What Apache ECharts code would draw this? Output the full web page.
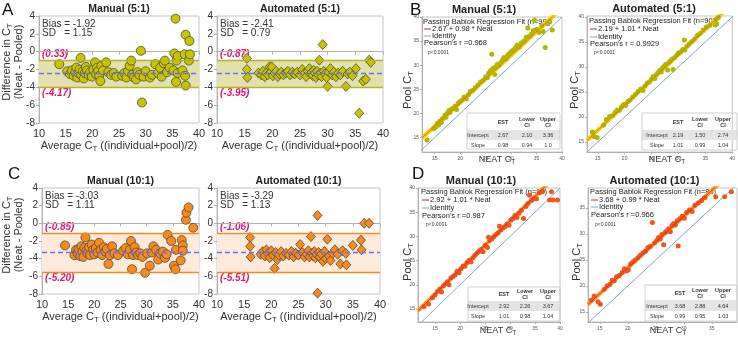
<!DOCTYPE html>
<html>
<head>
<meta charset="utf-8">
<script src="https://cdn.jsdelivr.net/npm/echarts@6/dist/echarts.min.js"></script>
<style>
html, body { margin: 0; padding: 0; background: #fff; }
#chart { width: 738px; height: 337px; }
</style>
</head>
<body>
<div id="chart"></div>
<script>
// Bland-Altman data: [average Ct, difference (neat - pooled)]
const manual5Diff = [[13.8,-1.4],[15.3,-2.2],[15.8,-2.5],[16.2,-2.1],[16.5,-2.7],[16.8,-2.3],[17.0,-1.8],[17.2,-2.9],[17.4,-2.4],[17.6,-2.0],[17.8,-0.7],[17.9,-2.6],[18.2,-2.2],[18.4,-3.0],[18.6,-2.4],[18.8,-1.7],[19.0,-2.1],[19.3,-2.6],[19.6,-2.3],[19.9,-2.8],[20.2,-2.0],[20.5,-1.2],[20.7,-2.5],[20.9,-1.8],[21.1,-2.2],[21.3,-2.7],[21.5,-3.3],[21.7,-1.6],[22.0,-2.1],[22.6,-1.2],[23.0,-2.3],[23.5,-2.6],[24.0,-2.4],[24.5,-2.8],[25.6,-2.7],[26.0,-2.4],[26.4,-2.9],[26.7,-2.2],[27.0,-1.6],[27.3,-1.0],[27.5,-2.6],[27.8,-2.9],[28.2,-3.1],[28.5,-2.3],[28.8,-2.6],[29.1,0.1],[29.3,-5.7],[29.6,-2.8],[30.0,-2.2],[30.8,-2.9],[31.2,-2.6],[31.8,-1.4],[32.3,-2.4],[32.7,-1.8],[33.0,-2.8],[33.4,-1.3],[33.6,-1.0],[34.0,-2.3],[34.5,-1.8],[35.2,-2.1],[35.4,-0.2],[35.6,3.7],[35.7,-3.4],[35.8,-1.0],[36.0,-0.5],[36.0,-2.4],[36.9,-2.1],[37.3,-0.3],[37.4,-2.7],[37.5,1.9],[37.5,-3.8],[38.1,-1.0],[38.2,1.2],[38.3,-0.3]];
const auto5Diff = [[15.4,-0.75],[15.4,-2.0],[15.5,-2.9],[17.5,-2.4],[18.0,-2.6],[18.3,-2.2],[18.6,-2.8],[18.9,-2.4],[19.2,-2.6],[19.5,-1.7],[19.7,-2.3],[19.9,-1.7],[20.1,-2.7],[20.4,-2.4],[20.7,-2.2],[21.0,-2.8],[21.3,-2.5],[21.6,-2.3],[22.0,-2.6],[22.4,-2.4],[22.8,-2.2],[23.2,-2.6],[23.6,-2.3],[24.0,-2.5],[24.5,-2.3],[25.0,-2.6],[25.4,-2.0],[25.8,-2.4],[26.1,-2.8],[26.4,-2.2],[26.7,-1.9],[26.9,-2.5],[27.1,-2.3],[27.3,-2.7],[27.5,-2.1],[27.7,-2.4],[27.9,-2.9],[28.1,-2.2],[28.3,-2.6],[28.5,-0.95],[28.7,-2.4],[28.9,-2.8],[29.1,0.8],[29.3,-2.2],[29.5,-2.5],[29.8,-2.9],[30.0,-3.9],[30.2,-2.3],[30.5,-1.9],[30.8,-2.6],[31.1,-2.3],[31.5,-2.8],[31.9,-2.4],[32.3,-2.6],[32.7,-2.2],[33.3,-3.9],[33.6,-2.5],[34.0,-2.3],[34.5,-2.7],[35.1,-1.9],[35.7,-6.9],[36.4,-3.3],[36.9,-3.1],[37.5,-0.95],[37.8,-1.2]];
const manual10Diff = [[14.4,-2.5],[16.2,-3.6],[16.5,-3.0],[16.8,-3.4],[17.0,-2.9],[17.3,-3.7],[17.5,-2.6],[17.7,-3.2],[17.9,-3.8],[18.1,-2.8],[18.3,-1.6],[18.5,-3.1],[18.7,-3.4],[19.0,-2.7],[19.2,-3.6],[19.5,-2.4],[19.8,-3.0],[20.0,-3.5],[20.3,-2.8],[20.6,-3.3],[20.9,-2.2],[21.2,-3.0],[21.5,-3.6],[21.8,-2.7],[22.1,-3.2],[22.4,-2.9],[22.7,-4.6],[23.0,-3.6],[23.4,-2.6],[23.8,-3.4],[24.5,-3.6],[25.5,-3.1],[26.0,-2.8],[26.4,-3.5],[26.8,-3.0],[27.0,-2.0],[27.2,-5.2],[27.4,-3.6],[27.7,-2.7],[28.0,-3.3],[28.4,-3.6],[28.8,-3.4],[29.2,-3.8],[29.7,-5.6],[30.1,-3.4],[30.6,-4.8],[31.0,-3.3],[31.3,-2.6],[31.8,-3.0],[32.2,-4.1],[32.6,-3.4],[33.1,-3.2],[33.5,-3.9],[33.8,-3.5],[34.0,-1.3],[34.7,-2.0],[35.2,-4.8],[35.5,-5.2],[35.6,-3.0],[36.5,-4.2],[36.7,-1.9],[36.9,-2.5],[36.9,-3.1],[37.5,0.4],[37.6,1.2],[38.0,1.8],[38.9,-0.5]];
const auto10Diff = [[16.1,-1.6],[16.1,-2.6],[16.2,-3.8],[18.0,-3.5],[18.4,-3.2],[18.8,-3.7],[19.1,-3.0],[19.4,-3.4],[19.7,-3.9],[20.0,-3.1],[20.3,-3.6],[20.6,-5.1],[20.8,-3.3],[21.1,-4.1],[21.4,-3.6],[21.8,-3.2],[22.2,-3.7],[22.7,-3.4],[23.2,-3.6],[23.7,-3.2],[24.1,-3.8],[24.5,-3.4],[25.0,-3.6],[25.3,-2.4],[25.7,-3.3],[26.1,-3.8],[26.5,-3.5],[26.8,-3.1],[27.0,-3.8],[27.3,-1.5],[27.5,-3.4],[27.7,-3.7],[27.9,-3.2],[28.1,-3.9],[28.3,-3.5],[28.5,0.9],[28.5,-7.9],[28.7,-3.3],[28.9,-3.8],[29.2,-3.5],[29.5,-4.3],[29.8,-3.2],[30.0,-4.0],[30.3,-1.8],[30.6,-3.7],[30.9,-4.2],[31.3,-3.4],[31.7,-3.0],[32.2,-3.5],[32.7,-4.6],[33.1,-3.1],[33.7,-3.4],[33.8,-4.7],[35.0,-2.5],[36.5,-1.9],[36.6,-3.0],[37.1,0.0],[38.0,0.0]];

const baTitles = ['Manual (5:1)', 'Automated (5:1)', 'Manual (10:1)', 'Automated (10:1)'];
const baBias = ['-1.92', '-2.41', '-3.03', '-3.29'];
const baSD = ['1.15', '0.79', '1.11', '1.13'];
const baLimitText = [['(0.33)', '(-4.17)'], ['(-0.87)', '(-3.95)'], ['(-0.85)', '(-5.20)'], ['(-1.06)', '(-5.51)']];
// band as drawn: upper limit, bias, lower limit
const baBand = [[-0.95, -2.45, -4.0], [-0.95, -2.4, -4.0], [-1.1, -3.3, -5.5], [-1.1, -3.3, -5.5]];
const baYTicks = [4, 2, 0, -2, -4, -6, -8];
const baXTicks = [10, 15, 20, 25, 30, 35, 40];

// Passing-Bablok data: [neat Ct, pool Ct]
const manual5Pool = [[13.5,14.5],[14.8,16.8],[15.2,17.2],[15.5,17.9],[15.8,17.6],[16.0,18.4],[16.3,18.1],[16.5,18.9],[16.8,19.0],[17.0,19.6],[17.2,19.2],[17.5,20.1],[17.8,20.6],[18.0,20.2],[18.3,20.9],[18.6,21.0],[19.0,21.5],[19.3,20.8],[19.6,22.1],[20.0,22.5],[20.4,22.8],[20.8,23.4],[21.2,23.0],[21.6,23.9],[22.0,24.6],[22.5,24.8],[23.0,25.4],[23.5,25.9],[24.0,26.5],[24.5,26.9],[25.0,27.6],[25.3,27.4],[25.6,28.4],[26.0,28.9],[26.2,32.3],[26.5,29.4],[26.8,28.1],[27.0,29.6],[27.3,30.2],[27.6,30.0],[28.0,30.6],[28.3,31.1],[28.6,31.6],[29.0,31.3],[29.3,32.0],[29.6,32.4],[30.0,32.8],[30.4,33.1],[30.8,33.6],[31.2,34.2],[31.6,33.8],[32.0,34.6],[32.5,35.0],[33.0,35.8],[33.3,37.7],[33.6,36.0],[34.0,36.5],[34.4,37.2],[34.6,39.4],[35.0,37.4],[35.5,36.8],[36.0,38.2],[36.3,37.0],[36.7,33.7],[37.2,38.6],[37.6,39.0],[38.1,37.3]];
const auto5Pool = [[14.0,17.0],[14.3,16.1],[14.9,15.9],[16.1,18.4],[16.6,19.5],[17.2,20.1],[17.8,20.3],[18.2,20.9],[18.6,21.4],[19.0,21.3],[19.4,22.0],[19.8,22.5],[20.2,22.3],[20.6,23.1],[21.0,23.4],[21.5,24.0],[22.0,24.5],[22.5,25.1],[23.0,25.6],[23.4,25.3],[23.8,26.2],[24.2,26.8],[24.6,27.0],[25.0,27.6],[25.3,28.1],[25.6,27.7],[25.9,28.5],[26.2,28.9],[26.5,29.3],[26.8,29.0],[27.0,29.8],[27.3,30.1],[27.6,30.5],[28.0,29.4],[28.2,30.9],[28.5,31.2],[28.8,31.6],[29.0,29.5],[29.3,31.9],[29.7,32.4],[30.0,32.8],[30.4,33.0],[30.8,33.5],[31.1,35.4],[31.2,33.4],[31.6,34.2],[32.0,34.6],[32.5,35.1],[33.0,35.6],[33.5,36.3],[34.0,36.7],[34.6,37.4],[35.2,38.0],[35.8,38.3],[36.8,38.4],[37.1,38.6],[37.0,39.5],[37.4,39.9]];
const manual10Pool = [[12.8,15.5],[13.7,16.0],[14.5,17.3],[15.0,17.9],[15.5,18.6],[16.0,19.1],[16.3,18.5],[16.7,19.8],[17.1,20.2],[17.5,20.6],[17.8,20.0],[18.2,21.4],[18.6,21.7],[19.0,22.0],[19.4,22.8],[19.8,22.5],[20.2,23.3],[20.6,23.9],[21.0,23.8],[21.4,24.6],[21.8,25.0],[22.2,24.7],[22.6,25.6],[23.0,26.1],[23.4,26.5],[23.8,26.9],[24.2,27.3],[24.6,26.8],[25.0,28.1],[25.5,27.7],[25.7,29.8],[26.0,29.2],[26.4,29.5],[26.8,30.0],[27.2,30.4],[27.6,30.7],[27.9,32.1],[28.2,31.3],[28.6,31.8],[29.0,32.0],[29.4,32.5],[29.8,32.3],[30.2,33.4],[30.6,33.7],[31.0,34.3],[31.4,33.9],[31.8,34.8],[32.3,35.4],[32.7,33.7],[33.2,36.2],[33.6,36.8],[33.9,38.5],[34.3,37.4],[34.8,37.8],[35.3,37.8],[35.9,39.0],[36.5,39.3],[37.9,37.5],[38.3,39.2],[38.6,37.5],[39.5,37.5]];
const auto10Pool = [[13.5,17.3],[14.0,18.1],[14.7,17.0],[15.1,16.5],[15.8,19.4],[16.3,20.0],[16.8,20.3],[17.2,21.1],[17.6,21.0],[18.0,21.8],[18.5,22.0],[19.0,22.6],[19.4,23.3],[19.8,22.9],[20.1,23.1],[20.5,24.2],[20.9,24.6],[21.3,25.0],[21.8,25.4],[22.2,25.9],[22.7,26.4],[23.2,26.7],[23.6,27.4],[24.0,27.6],[24.4,32.2],[24.8,28.3],[25.2,28.8],[25.5,29.3],[25.8,29.0],[26.1,29.9],[26.4,27.9],[26.7,30.3],[27.0,30.6],[27.3,31.0],[27.6,30.4],[27.9,31.6],[28.2,32.0],[28.5,31.7],[28.8,32.5],[29.0,27.7],[29.3,32.9],[29.7,33.4],[30.1,33.0],[30.5,34.1],[31.0,34.6],[31.5,34.3],[32.0,35.5],[32.6,35.9],[33.2,36.4],[33.8,37.0],[35.7,37.1],[37.3,37.1],[38.5,38.1]];

const pbTitles = ['Manual (5:1)', 'Automated (5:1)', 'Manual (10:1)', 'Automated (10:1)'];
const pbN = [99, 90, 91, 85];
const pbIntercept = [2.67, 2.19, 2.92, 3.68];
const pbSlope = [0.98, 1.01, 1.01, 0.99];
const pbPearson = ['=0.968', '= 0.9929', '=0.987', '=0.966'];
const pbTableRows = [
    [['2.67', '2.10', '3.36'], ['0.98', '0.94', '1.0']],
    [['2.19', '1.50', '2.74'], ['1.01', '0.99', '1.04']],
    [['2.92', '2.26', '3.67'], ['1.01', '0.98', '1.04']],
    [['3.68', '2.88', '4.64'], ['0.99', '0.95', '1.03']]
];
const pbTicks = [15, 20, 25, 30, 35, 40];

const FONT = 'Liberation Sans, Arial, sans-serif';

// layout
const baGrids = [
    { left: 39, top: 16, width: 160, height: 107 },
    { left: 217, top: 16, width: 166, height: 107 },
    { left: 42, top: 188, width: 157, height: 106 },
    { left: 217, top: 188, width: 163, height: 106 }
];
const pbGrids = [
    { left: 422, top: 17, width: 140, height: 135, x: [12.5, 40], y: [12, 40] },
    { left: 587, top: 16, width: 150, height: 136, x: [13, 40], y: [13, 40.2] },
    { left: 418, top: 188, width: 142, height: 134, x: [11.6, 40], y: [12.3, 40] },
    { left: 588, top: 188, width: 149, height: 134, x: [12.9, 39.5], y: [13.1, 38.8] }
];
const baStyles = [
    { fill: '#c9c400', band: '#e2e1ae', edge: '#b9b41c', symbol: 'circle' },
    { fill: '#c9c400', band: '#e2e1ae', edge: '#b9b41c', symbol: 'diamond' },
    { fill: '#f7891f', band: '#fdeadb', edge: '#f08a24', symbol: 'circle' },
    { fill: '#f7891f', band: '#fdeadb', edge: '#f08a24', symbol: 'diamond' }
];
const pbStyles = [
    { dot: '#b3b500', band: '#f5cf00', line: '#e07a00' },
    { dot: '#b3b500', band: '#f5cf00', line: '#e07a00' },
    { dot: '#f0561a', band: '#ffa128', line: '#d8321a' },
    { dot: '#f0561a', band: '#ffa128', line: '#d8321a' }
];

const chart = echarts.init(document.getElementById('chart'));

const grids = [];
const xAxes = [];
const yAxes = [];
const series = [];
const graphic = [];

const subRich = (size) => ({ s: { fontSize: size * 0.72, padding: [size * 0.45, 0, 0, 0], fontFamily: FONT } });

function txt(x, y, text, opt) {
    opt = opt || {};
    graphic.push({
        type: 'text', x: x, y: y, rotation: opt.rot || 0, silent: true,
        style: {
            text: text, fill: opt.color || '#222',
            fontSize: opt.size || 10, fontFamily: FONT,
            fontWeight: opt.bold ? 'bold' : 'normal',
            fontStyle: opt.italic ? 'italic' : 'normal',
            align: opt.align || 'left', verticalAlign: 'middle',
            rich: opt.rich
        }
    });
}
function seg(x1, y1, x2, y2, color, w) {
    graphic.push({ type: 'line', silent: true, shape: { x1: x1, y1: y1, x2: x2, y2: y2 }, style: { stroke: color, lineWidth: w || 1 } });
}

// Bland-Altman panels
const baData = [manual5Diff, auto5Diff, manual10Diff, auto10Diff];
baData.forEach((d, i) => {
    const g = baGrids[i];
    const st = baStyles[i];
    grids.push({ left: g.left, top: g.top, width: g.width, height: g.height, show: true, borderColor: '#c4c4c4', borderWidth: 1 });
    xAxes.push({
        type: 'value', gridIndex: i, min: 10, max: 40, interval: 5,
        axisLine: { show: true, lineStyle: { color: '#b0b0b0' } },
        axisTick: { show: true, length: 3, lineStyle: { color: '#b0b0b0' } },
        axisLabel: { color: '#333', fontSize: 11, fontFamily: FONT, margin: 5 },
        splitLine: { show: false }
    });
    yAxes.push({
        type: 'value', gridIndex: i, min: -8, max: 4, interval: 2,
        axisLine: { show: true, lineStyle: { color: '#b0b0b0' } },
        axisTick: { show: true, length: 3, lineStyle: { color: '#b0b0b0' } },
        axisLabel: { color: '#333', fontSize: 10, fontFamily: FONT, margin: 4 },
        splitLine: { show: false }
    });
    const band = baBand[i];
    series.push({
        type: 'scatter', xAxisIndex: i, yAxisIndex: i, data: d,
        symbol: st.symbol, symbolSize: st.symbol === 'diamond' ? [9, 10] : 9,
        itemStyle: { color: st.fill, borderColor: '#4d4d3a', borderWidth: 0.8, opacity: 1 },
        markArea: {
            silent: true, itemStyle: { color: st.band },
            data: [[{ yAxis: band[0] }, { yAxis: band[2] }]]
        },
        markLine: {
            silent: true, symbol: 'none', label: { show: false },
            data: [
                { yAxis: band[0], lineStyle: { color: st.edge, width: 1.3, type: 'solid' } },
                { yAxis: band[2], lineStyle: { color: st.edge, width: 1.3, type: 'solid' } },
                { yAxis: band[1], lineStyle: { color: '#6b6bff', width: 1.3, type: [5, 3] } }
            ]
        }
    });
    // texts
    const cx = g.left + g.width / 2;
    txt(cx, g.top - 7, baTitles[i], { bold: true, align: 'center', size: 10.5 });
    txt(g.left + 3, g.top + 8, 'Bias = ' + baBias[i], { size: 10, color: '#333' });
    txt(g.left + 3, g.top + 17, 'SD   = ' + baSD[i], { size: 10, color: '#333' });
    const yScale = g.height / 12;
    txt(g.left + 3, g.top + (4 - band[0]) * yScale - 6, baLimitText[i][0], { size: 10, bold: true, italic: true, color: '#e0157a' });
    txt(g.left + 3, g.top + (4 - band[2]) * yScale + 6, baLimitText[i][1], { size: 10, bold: true, italic: true, color: '#e0157a' });
    txt(cx, g.top + g.height + 23, 'Average C{s|T} ((individual+pool)/2)', { size: 11, color: '#333', align: 'center', rich: subRich(11) });
});
// y axis titles for A and C
[62, 235].forEach((cy) => {
    txt(7, cy, 'Difference in C{s|T}', { size: 11, color: '#333', align: 'center', rot: Math.PI / 2, rich: subRich(11) });
    txt(19, cy, '(Neat - Pooled)', { size: 11, color: '#333', align: 'center', rot: Math.PI / 2 });
});

// Passing-Bablok panels
const pbData = [manual5Pool, auto5Pool, manual10Pool, auto10Pool];
const pbLegends = [
    { x: 423, y: [22, 29, 36, 43, 53] },
    { x: 589, y: [21, 29, 37, 44, 53] },
    { x: 421, y: [192, 200, 208, 216, 225] },
    { x: 590, y: [192, 200, 207, 215, 225] }
];
const pbTables = [
    { x0: 467, x1: 560, top: 113, cols: [478, 503, 527, 548], head: 122, gray: [130, 140], rows: [135, 145], bottom: 149 },
    { x0: 642, x1: 737, top: 113, cols: [657, 678, 700, 723], head: 122, gray: [130, 140], rows: [135, 145], bottom: 150 },
    { x0: 468, x1: 560, top: 287, cols: [478, 504, 525, 548], head: 294, gray: [301, 311], rows: [306, 316], bottom: 321 },
    { x0: 645, x1: 737, top: 285, cols: [657, 680, 700, 723], head: 293, gray: [300, 311], rows: [306, 316], bottom: 321 }
];
const pbAxisTitles = [
    { pool: [408, 90], neat: [497, 160] },
    { pool: [575, 90], neat: [667, 160] },
    { pool: [408, 262], neat: [498, 331] },
    { pool: [577, 262], neat: [668, 331] }
];

pbData.forEach((d, k) => {
    const i = k + 4;
    const g = pbGrids[k];
    const st = pbStyles[k];
    grids.push({ left: g.left, top: g.top, width: g.width, height: g.height, show: true, borderColor: '#c4c4c4', borderWidth: 1 });
    const ticks = pbTicks.filter((t) => t >= g.x[0] && t <= g.x[1]);
    const yticks = pbTicks.filter((t) => t >= g.y[0] && t <= g.y[1]);
    xAxes.push({
        type: 'value', gridIndex: i, min: g.x[0], max: g.x[1],
        axisLine: { show: true, lineStyle: { color: '#b0b0b0' } },
        axisTick: { show: true, length: 2, customValues: ticks, lineStyle: { color: '#b0b0b0' } },
        axisLabel: { customValues: ticks, color: '#555', fontSize: 5, fontFamily: FONT, margin: 4 },
        splitLine: { show: false }
    });
    yAxes.push({
        type: 'value', gridIndex: i, min: g.y[0], max: g.y[1],
        axisLine: { show: true, lineStyle: { color: '#b0b0b0' } },
        axisTick: { show: true, length: 2, customValues: yticks, lineStyle: { color: '#b0b0b0' } },
        axisLabel: { customValues: yticks, color: '#555', fontSize: 5, fontFamily: FONT, margin: 3 },
        splitLine: { show: false }
    });
    const lo = Math.min(g.x[0], g.y[0]);
    const hi = Math.max(g.x[1], g.y[1]);
    // identity line
    series.push({
        type: 'line', xAxisIndex: i, yAxisIndex: i, data: [[lo, lo], [hi, hi]],
        symbol: 'none', silent: true, lineStyle: { color: '#7fa6d8', width: 1 }, z: 1
    });
    const a = pbIntercept[k], b = pbSlope[k];
    const reg = [[g.x[0], a + b * g.x[0]], [g.x[1], a + b * g.x[1]]];
    series.push({
        type: 'line', xAxisIndex: i, yAxisIndex: i, data: reg,
        symbol: 'none', silent: true, lineStyle: { color: st.band, width: 4 }, z: 2
    });
    series.push({
        type: 'scatter', xAxisIndex: i, yAxisIndex: i, data: d,
        symbolSize: 5, itemStyle: { color: st.dot, opacity: 1 }, z: 3
    });
    series.push({
        type: 'line', xAxisIndex: i, yAxisIndex: i, data: reg,
        symbol: 'none', silent: true, lineStyle: { color: st.line, width: 1 }, z: 4
    });

    // title and axis names
    txt(g.left + g.width / 2 - 8, g.top - 7, pbTitles[k], { bold: true, align: 'center', size: 11 });
    const at = pbAxisTitles[k];
    txt(at.pool[0], at.pool[1], 'Pool C{s|T}', { size: 11, color: '#333', align: 'center', rot: Math.PI / 2, rich: subRich(11) });
    txt(at.neat[0], at.neat[1], 'NEAT C{s|T}', { size: 9, color: '#333', align: 'center', rich: subRich(9) });

    // legend
    const L = pbLegends[k];
    txt(L.x, L.y[0], 'Passing Bablok Regression Fit (n=' + pbN[k] + ')', { size: 7.5, color: '#222' });
    seg(L.x + 1, L.y[1], L.x + 8, L.y[1], '#c0282d', 1);
    txt(L.x + 9, L.y[1], a.toFixed(2) + ' + ' + b.toFixed(2) + ' * Neat', { size: 7.5, color: '#222' });
    seg(L.x + 1, L.y[2], L.x + 8, L.y[2], '#7fa6d8', 1);
    txt(L.x + 9, L.y[2], 'Identity', { size: 7.5, color: '#222' });
    txt(L.x + 1, L.y[3], "Pearson's r " + pbPearson[k], { size: 7.5, color: '#222' });
    txt(L.x + 5, L.y[4], 'p<0.0001', { size: 5, color: '#333' });

    // table
    const T = pbTables[k];
    graphic.push({ type: 'rect', silent: true, shape: { x: T.x0, y: T.gray[0], width: T.x1 - T.x0, height: T.gray[1] - T.gray[0] }, style: { fill: '#e4e4e4' } });
    graphic.push({ type: 'rect', silent: true, shape: { x: T.x0, y: T.top, width: T.x1 - T.x0, height: T.bottom - T.top }, style: { fill: 'rgba(255,255,255,0)', stroke: '#cfcfcf', lineWidth: 1 } });
    txt(T.cols[1], T.head, 'EST', { size: 5.5, bold: true, align: 'center', color: '#333' });
    txt(T.cols[2], T.head, 'Lower\nCI', { size: 5.5, bold: true, align: 'center', color: '#333' });
    txt(T.cols[3], T.head, 'Upper\nCI', { size: 5.5, bold: true, align: 'center', color: '#333' });
    ['Intercept', 'Slope'].forEach((name, r) => {
        txt(T.cols[0], T.rows[r], name, { size: 5.5, align: 'center', color: '#333' });
        pbTableRows[k][r].forEach((v, c) => {
            txt(T.cols[c + 1], T.rows[r], v, { size: 5.5, align: 'center', color: '#333' });
        });
    });
});

// panel letters
txt(2, 10, 'A', { size: 17, color: '#111' });
txt(410, 10, 'B', { size: 17, color: '#111' });
txt(8, 174, 'C', { size: 17, color: '#111' });
txt(412, 174, 'D', { size: 17, color: '#111' });

chart.setOption({
    animation: false,
    backgroundColor: '#fff',
    grid: grids,
    xAxis: xAxes,
    yAxis: yAxes,
    series: series,
    graphic: graphic
});
</script>
</body>
</html>
